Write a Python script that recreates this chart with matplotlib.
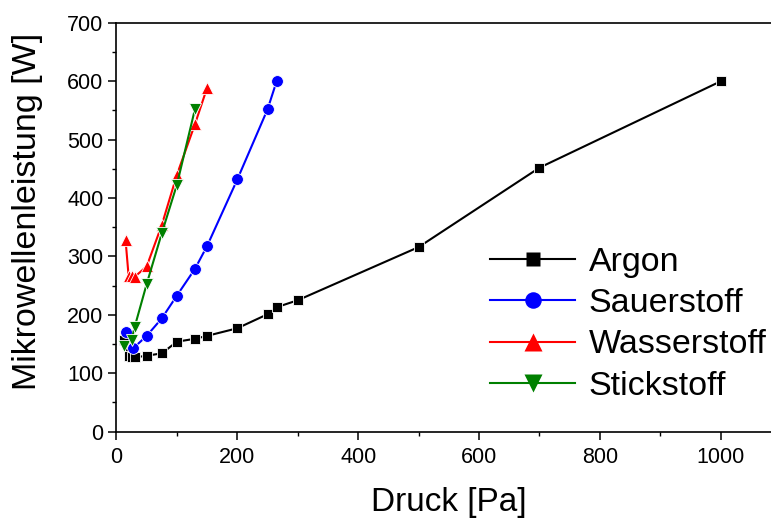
import numpy as np
import matplotlib
matplotlib.use("Agg")
import matplotlib.pyplot as plt
from matplotlib.ticker import MultipleLocator

plt.rcParams['font.family'] = ['Liberation Sans', 'DejaVu Sans']

# Druck [Pa] und Mikrowellenleistung [W] je Gas
argon_p = [13, 20, 25, 30, 50, 75, 100, 130, 150, 200, 250, 265, 300, 500, 700, 1000]
argon_w = [157, 129, 127, 127, 130, 134, 154, 159, 164, 177, 201, 213, 225, 316, 452, 600]

sauerstoff_p = [15, 28, 50, 75, 100, 130, 150, 200, 250, 265]
sauerstoff_w = [170, 143, 164, 194, 233, 279, 318, 432, 552, 600]

wasserstoff_p = [15, 20, 25, 30, 50, 75, 100, 130, 150]
wasserstoff_w = [328, 267, 266, 265, 283, 354, 440, 527, 589]

stickstoff_p = [13, 25, 30, 50, 75, 100, 130]
stickstoff_w = [147, 157, 179, 253, 340, 423, 553]

fig = plt.figure(figsize=(7.71, 5.21), dpi=100)
ax = fig.add_axes([0.1511, 0.1716, 0.862, 0.7844])

kw = dict(lw=1.5, mec='white', mew=0.6)
ax.plot(argon_p, argon_w, color='black', marker='s', ms=7.5, label='Argon', **kw)
ax.plot(sauerstoff_p, sauerstoff_w, color='blue', marker='o', ms=8.5, label='Sauerstoff', **kw)
ax.plot(wasserstoff_p, wasserstoff_w, color='red', marker='^', ms=9, label='Wasserstoff', **kw)
ax.plot(stickstoff_p, stickstoff_w, color='green', marker='v', ms=9, label='Stickstoff', **kw)

ax.set_xlim(0, 1100)
ax.set_ylim(0, 700)
ax.xaxis.set_major_locator(MultipleLocator(200))
ax.xaxis.set_minor_locator(MultipleLocator(100))
ax.yaxis.set_major_locator(MultipleLocator(100))
ax.yaxis.set_minor_locator(MultipleLocator(50))
ax.tick_params(which='major', direction='out', length=6, width=1.1, labelsize=15.5)
ax.tick_params(which='minor', direction='out', length=3, width=1.0)
ax.tick_params(axis='x', which='major', pad=5)
ax.tick_params(axis='y', which='major', pad=3.5)
ax.tick_params(top=False, right=False)
for s in ax.spines.values():
    s.set_linewidth(1.2)

ax.set_xlabel('Druck [Pa]', fontsize=24, labelpad=14)
ax.set_ylabel('Mikrowellenleistung [W]', fontsize=24.5)
ax.yaxis.set_label_coords(-0.110, 0.538)

leg = ax.legend(loc='upper left', bbox_to_anchor=(490 / 771, 1 - 247 / 521),
                bbox_transform=fig.transFigure, frameon=False, fontsize=24.5,
                handlelength=2.5, handletextpad=0.4, labelspacing=0.3,
                borderpad=0, borderaxespad=0, markerscale=1.4)
for h in leg.get_lines():
    h.set_markeredgecolor('none')

fig.savefig('out.png', dpi=100)
